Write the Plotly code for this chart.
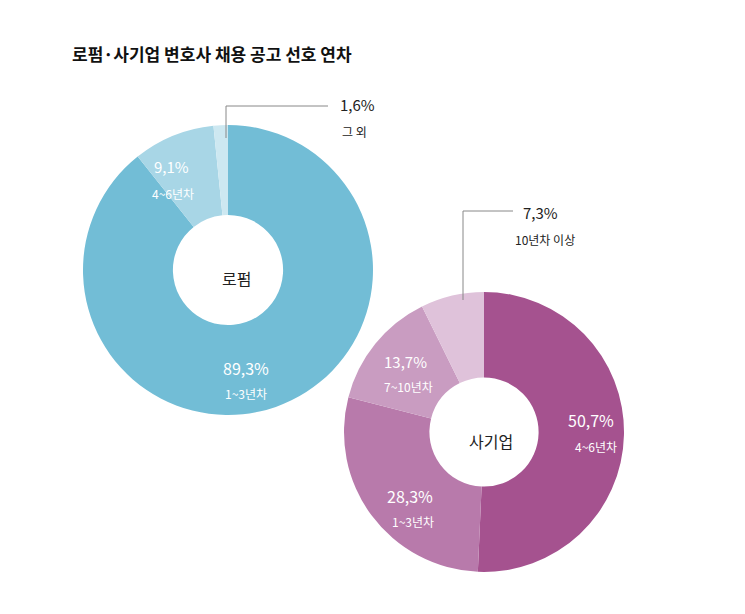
import plotly.graph_objects as go

W, H = 745, 614
law_labels = ["1~3년차", "4~6년차", "그 외"]
law_values = [89.3, 9.1, 1.6]
law_colors = ["#72bdd6", "#a8d6e6", "#cde8f1"]
co_labels = ["4~6년차", "1~3년차", "7~10년차", "10년차 이상"]
co_values = [50.7, 28.3, 13.7, 7.3]
co_colors = ["#a5528f", "#b87aab", "#c99cc1", "#dfc2da"]

def px(x): return x / W
def py(y): return 1 - y / H

fig = go.Figure()
fig.add_trace(go.Pie(values=law_values, labels=law_labels, hole=0.38, sort=False,
                     direction="clockwise", rotation=0, textinfo="none",
                     marker=dict(colors=law_colors), showlegend=False,
                     domain=dict(x=[px(75), px(365)], y=[py(407), py(117)])))
fig.add_trace(go.Pie(values=co_values, labels=co_labels, hole=0.39, sort=False,
                     direction="clockwise", rotation=0, textinfo="none",
                     marker=dict(colors=co_colors), showlegend=False,
                     domain=dict(x=[px(336), px(616)], y=[py(564), py(284)])))

F = "Noto Sans CJK KR"
anns = [
    ("로펌·사기업 변호사 채용 공고 선호 연차", 62, 45, 17, "#111", "left", True),
    ("로펌", 228, 270, 16, "#222", "center", False),
    ("사기업", 483, 433, 16, "#222", "center", False),
    (f"{law_values[0]}%".replace(".", ","), 238, 360, 16, "white", "center", False),
    (law_labels[0], 238, 386, 12, "white", "center", False),
    (f"{law_values[1]}%".replace(".", ","), 163, 158, 15, "white", "center", False),
    (law_labels[1], 165, 185, 12, "white", "center", False),
    (f"{law_values[2]}%".replace(".", ","), 330, 97, 15, "#222", "left", False),
    (law_labels[2], 332, 124, 12, "#222", "left", False),
    (f"{co_values[0]}%".replace(".", ","), 583, 412, 16, "white", "center", False),
    (co_labels[0], 588, 438, 12, "white", "center", False),
    (f"{co_values[1]}%".replace(".", ","), 402, 488, 16, "white", "center", False),
    (co_labels[1], 405, 513, 12, "white", "center", False),
    (f"{co_values[2]}%".replace(".", ","), 397, 353, 15, "white", "center", False),
    (co_labels[2], 400, 378, 12, "white", "center", False),
    (f"{co_values[3]}%".replace(".", ","), 513, 205, 15, "#222", "left", False),
    (co_labels[3], 505, 232, 12, "#222", "left", False),
]
for t, x, y, s, c, a, b in anns:
    fig.add_annotation(text=f"<b>{t}</b>" if b else t, x=px(x), y=py(y), xref="paper", yref="paper",
                       showarrow=False, xanchor=a, yanchor="middle",
                       font=dict(family=F, size=s, color=c))

for pts in ([(218, 130), (218, 98), (320, 98)], [(455, 292), (455, 203), (505, 203)]):
    path = "M " + " L ".join(f"{px(x)},{py(y)}" for x, y in pts)
    fig.add_shape(type="path", path=path, xref="paper", yref="paper",
                  line=dict(color="#888", width=1))

fig.update_layout(width=W, height=H, margin=dict(l=0, r=0, t=0, b=0),
                  paper_bgcolor="white", plot_bgcolor="white")
fig.write_html("out.html")
